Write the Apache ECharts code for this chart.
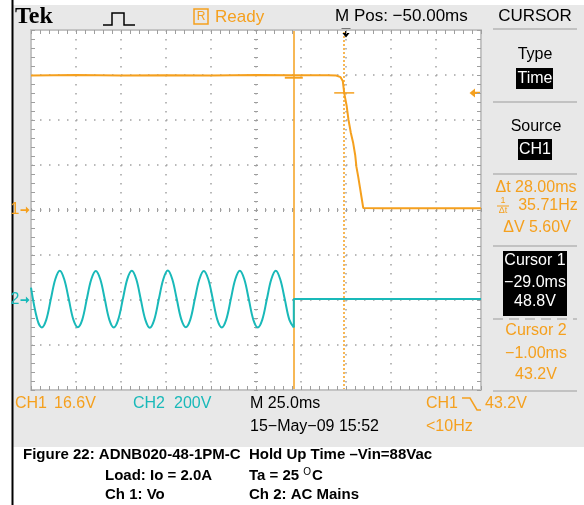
<!DOCTYPE html>
<html>
<head>
<meta charset="utf-8">
<title>Hold Up Time</title>
<script src="https://cdn.jsdelivr.net/npm/echarts@6/dist/echarts.min.js"></script>
<style>
html, body { margin: 0; padding: 0; background: #fff; }
#scope { width: 584px; height: 505px; }
</style>
</head>
<body>
<div id="scope"></div>
<script>
// CH1 = Vo, 16.6 V/div ; CH2 = AC mains, 200 V/div ; 25 ms/div, M Pos -50 ms
var timeMin = -175, timeMax = 75, timeStep = 25;

var ch1Time  = [-175, -150, -125, -100, -75, -50, -30, -10, -5.5, -3, -1.8, -1, 0.3, 1.4, 2.7, 4.0, 5.1, 5.8, 6.8, 7.7, 8.6, 9.6, 20, 45, 75];
var ch1Volts = [49.6, 49.8, 49.6, 49.7, 49.6, 49.8, 49.7, 49.7, 49.6, 49.0, 47.6, 43.2, 38.7, 33.2, 28.4, 24.7, 20.3, 15.9, 12.2, 8.5, 4.8, 0.7, 0.6, 0.6, 0.6];

var ch2Time = [-175, -171.5,
  -169, -166.5, -164, -161.5, -159, -156.5, -154, -151.5,
  -149, -146.5, -144, -141.5, -139, -136.5, -134, -131.5,
  -129, -126.5, -124, -121.5, -119, -116.5, -114, -111.5,
  -109, -106.5, -104, -101.5, -99, -96.5, -94, -91.5,
  -89, -86.5, -84, -81.5, -79, -76.5, -74, -71.5,
  -69, -66.5, -64, -61.5, -59, -56.5, -54, -51.5,
  -49, -46.5, -44, -41.5, -39, -36.5, -34, -31.5,
  -29];
var ch2Volts = [55, -87,
  -122, -87, 3, 92, 130, 91, 3, -86,
  -121, -87, 4, 92, 129, 92, 3, -87,
  -122, -86, 3, 93, 130, 92, 2, -87,
  -123, -87, 3, 92, 131, 92, 3, -86,
  -121, -87, 3, 91, 129, 92, 4, -87,
  -122, -86, 3, 92, 130, 92, 3, -87,
  -122, -87, 2, 92, 130, 91, 3, -87,
  -122];
// mains switched off at cursor 1
var ch2OffTime  = [-29, -29, 75];
var ch2OffVolts = [-122, 4, 4];

var cursorTimes = [-29, -1];
var cursorVolts = [48.8, 43.2];
var triggerLevel = 43.2;

var orange = '#f5a01e';
var cyan = '#19b9b9';
var gray = '#e8e8e8';
var tickGray = '#9e9e9e';
var screenFont = "'Liberation Sans', Arial, sans-serif";

function pairs(xs, ys) {
  return xs.map(function (x, i) { return [x, ys[i]]; });
}

function tickAxis(extra) {
  var a = {
    type: 'value',
    axisLine: { show: true, onZero: false, lineStyle: { color: '#c4c4c4', width: 2 } },
    axisTick: { show: true, inside: true, length: 4, lineStyle: { color: tickGray, width: 1 } },
    minorTick: { show: true, splitNumber: 5, length: 4, lineStyle: { color: tickGray, width: 1 } },
    axisLabel: { show: false },
    splitLine: { show: false },
    z: 5
  };
  return Object.assign(a, extra);
}

var dotted = { show: true, lineStyle: { color: '#a2a2a2', width: 1.5, type: [1.5, 7.5] } };

function txt(x, y, s, color, size, align, weight, family) {
  return {
    type: 'text', x: x, y: y, silent: true,
    style: {
      text: s, fill: color, fontSize: size, fontWeight: weight || 'normal',
      fontFamily: family || screenFont,
      align: align || 'center', textAlign: align || 'center',
      verticalAlign: 'middle', textVerticalAlign: 'middle'
    }
  };
}
function hline(x1, x2, y, color, w, dash) {
  return { type: 'line', silent: true, shape: { x1: x1, y1: y, x2: x2, y2: y },
    style: { stroke: color, lineWidth: w, lineDash: dash || null } };
}
function box(x, y, w, h, fill) {
  return { type: 'rect', silent: true, shape: { x: x, y: y, width: w, height: h }, style: { fill: fill } };
}

var myChart = echarts.init(document.getElementById('scope'));
myChart.setOption({
  animation: false,
  backgroundColor: gray,
  grid: { left: 31, right: 103, top: 30, bottom: 115, show: true, backgroundColor: '#fff', borderWidth: 0 },
  xAxis: [
    tickAxis({ min: timeMin, max: timeMax, interval: timeStep, position: 'bottom', splitLine: dotted }),
    tickAxis({ min: timeMin, max: timeMax, interval: timeStep, position: 'top' }),
    tickAxis({ min: timeMin, max: timeMax, interval: timeStep, position: 'bottom', offset: -178,
      axisLine: { show: false, onZero: false } })
  ],
  yAxis: [
    tickAxis({ min: -4, max: 4, interval: 1, position: 'left', splitLine: dotted }),
    tickAxis({ min: -4, max: 4, interval: 1, position: 'right' }),
    tickAxis({ min: -4, max: 4, interval: 1, position: 'left', offset: -223,
      axisLine: { show: false, onZero: false } }),
    { type: 'value', show: false, min: -66.4, max: 66.4 },
    { type: 'value', show: false, min: -400, max: 1200 }
  ],
  series: [
    {
      name: 'CH2', type: 'line', xAxisIndex: 0, yAxisIndex: 4,
      data: pairs(ch2Time, ch2Volts), smooth: 0.35, showSymbol: false,
      lineStyle: { color: cyan, width: 2 }, z: 6,
      markPoint: {
        silent: true, animation: false,
        data: [{
          coord: [timeMin, 0], symbol: 'path://M0,3L6,3L6,0L10,4L6,8L6,5L0,5Z',
          symbolSize: [9, 7], symbolOffset: [-6, 0], itemStyle: { color: cyan },
          label: { show: true, position: 'left', distance: 1, formatter: '2', color: cyan, fontSize: 16, fontFamily: screenFont }
        }]
      }
    },
    {
      name: 'CH2 off', type: 'line', xAxisIndex: 0, yAxisIndex: 4,
      data: pairs(ch2OffTime, ch2OffVolts), showSymbol: false,
      lineStyle: { color: cyan, width: 2 }, z: 6
    },
    {
      name: 'CH1', type: 'line', xAxisIndex: 0, yAxisIndex: 3,
      data: pairs(ch1Time, ch1Volts), showSymbol: false,
      lineStyle: { color: orange, width: 2 }, z: 7,
      markLine: {
        silent: true, symbol: 'none', animation: false,
        label: { show: false },
        data: [
          { xAxis: cursorTimes[0], lineStyle: { color: orange, width: 1.5, type: 'solid' } },
          { xAxis: cursorTimes[1], lineStyle: { color: orange, width: 1.5, type: [2, 2] } }
        ]
      },
      markPoint: {
        silent: true, animation: false, label: { show: false },
        data: [
          { coord: [cursorTimes[0], cursorVolts[0]], symbol: 'rect', symbolSize: [18, 2], itemStyle: { color: orange } },
          { coord: [cursorTimes[1], cursorVolts[1]], symbol: 'rect', symbolSize: [20, 1.5], itemStyle: { color: orange } },
          { coord: [timeMax, triggerLevel], symbol: 'path://M0,4L5,0L5,3L10,3L10,5L5,5L5,8Z',
            symbolSize: [11, 9], symbolOffset: [-6, 0], itemStyle: { color: orange } },
          { coord: [0, 66.4], symbol: 'path://M0,0L10,0L10,1.5L6,1.5L6,5L9,5L5,10L1,5L4,5L4,1.5L0,1.5Z',
            symbolSize: [9, 9], symbolOffset: [0, 3], itemStyle: { color: '#000' } },
          { coord: [timeMin, 0], symbol: 'path://M0,3L6,3L6,0L10,4L6,8L6,5L0,5Z',
            symbolSize: [9, 7], symbolOffset: [-6, 0], itemStyle: { color: orange },
            label: { show: true, position: 'left', distance: 1, formatter: '1', color: orange, fontSize: 16, fontFamily: screenFont } }
        ]
      }
    }
  ],
  graphic: [
    // caption area + left rule
    box(0, 447, 584, 58, '#fff'),
    box(0, 0, 12, 505, '#fff'),
    box(0, 0, 584, 5, '#fff'),
    { type: 'line', silent: true, shape: { x1: 12.5, y1: 0, x2: 12.5, y2: 505 }, style: { stroke: '#000', lineWidth: 2 } },

    // top status line
    txt(15, 17, 'Tek', '#000', 24, 'left', 'bold', "'Liberation Serif', 'DejaVu Serif', serif"),
    { type: 'polyline', silent: true, shape: { points: [[103, 25], [112, 25], [112, 13], [124, 13], [124, 25], [135, 25]] },
      style: { stroke: '#000', lineWidth: 1.5, fill: null } },
    { type: 'rect', silent: true, shape: { x: 194, y: 9, width: 14, height: 15 }, style: { fill: null, stroke: orange, lineWidth: 1.5 } },
    txt(201, 17, 'R', orange, 12),
    txt(215, 17, 'Ready', orange, 17, 'left'),
    txt(335, 16, 'M Pos: \u221250.00ms', '#000', 17, 'left'),
    txt(535, 16, 'CURSOR', '#000', 17),

    // right menu
    hline(493, 577, 29, '#c2c2c2', 2),
    txt(535, 55, 'Type', '#000', 16),
    box(516, 68, 37, 21, '#000'),
    txt(535, 79, 'Time', '#fff', 16),
    hline(493, 577, 102, '#c2c2c2', 2),
    txt(536, 127, 'Source', '#000', 16),
    box(518, 139, 34, 21, '#000'),
    txt(535, 150, 'CH1', '#fff', 16),
    hline(493, 577, 174, '#c2c2c2', 2),
    txt(536, 188, '\u0394t 28.00ms', orange, 16),
    txt(503, 201, '1', orange, 9),
    hline(497, 509, 206, orange, 1),
    txt(503, 211, '\u0394t', orange, 9),
    txt(548, 206, '35.71Hz', orange, 16),
    txt(537, 228, '\u0394V 5.60V', orange, 16),
    hline(493, 577, 246, '#c2c2c2', 2),
    box(503, 251, 64, 65, '#000'),
    txt(535, 261, 'Cursor 1', '#fff', 16),
    txt(535, 283, '\u221229.0ms', '#fff', 16),
    txt(535, 302, '48.8V', '#fff', 16),
    hline(493, 577, 319, '#c2c2c2', 2, [10, 6]),
    txt(536, 331, 'Cursor 2', orange, 16),
    txt(536, 354, '\u22121.00ms', orange, 16),
    txt(536, 375, '43.2V', orange, 16),
    hline(493, 577, 391, '#c2c2c2', 2),

    // bottom status line
    txt(15, 404, 'CH1', orange, 16, 'left'),
    txt(54, 404, '16.6V', orange, 16, 'left'),
    txt(133, 404, 'CH2', cyan, 16, 'left'),
    txt(174, 404, '200V', cyan, 16, 'left'),
    txt(250, 404, 'M 25.0ms', '#000', 16, 'left'),
    txt(426, 404, 'CH1', orange, 16, 'left'),
    { type: 'polyline', silent: true, shape: { points: [[462, 398], [470, 398], [477, 410], [481, 410]] },
      style: { stroke: orange, lineWidth: 1.5, fill: null } },
    txt(485, 404, '43.2V', orange, 16, 'left'),
    txt(250, 427, '15\u2212May\u221209 15:52', '#000', 16, 'left'),
    txt(426, 427, '<10Hz', orange, 16, 'left'),

    // figure caption
    txt(23, 455, 'Figure 22: ADNB020-48-1PM-C  Hold Up Time \u2013Vin=88Vac', '#000', 15, 'left', 'bold'),
    txt(105, 476, 'Load: Io = 2.0A', '#000', 15, 'left', 'bold'),
    {
      type: 'text', x: 249, y: 476, silent: true,
      style: {
        text: '{n|Ta = 25 }{s|O}{n|C}', align: 'left', textAlign: 'left', verticalAlign: 'middle', textVerticalAlign: 'middle',
        rich: {
          n: { fontSize: 15, fontWeight: 'bold', fontFamily: screenFont, fill: '#000', color: '#000' },
          s: { fontSize: 10, fontFamily: screenFont, fill: '#000', color: '#000', padding: [0, 1, 7, 0] }
        }
      }
    },
    txt(105, 495, 'Ch 1: Vo', '#000', 15, 'left', 'bold'),
    txt(249, 495, 'Ch 2: AC Mains', '#000', 15, 'left', 'bold')
  ]
});
window.onresize = function () { myChart.resize(); };
</script>
</body>
</html>
